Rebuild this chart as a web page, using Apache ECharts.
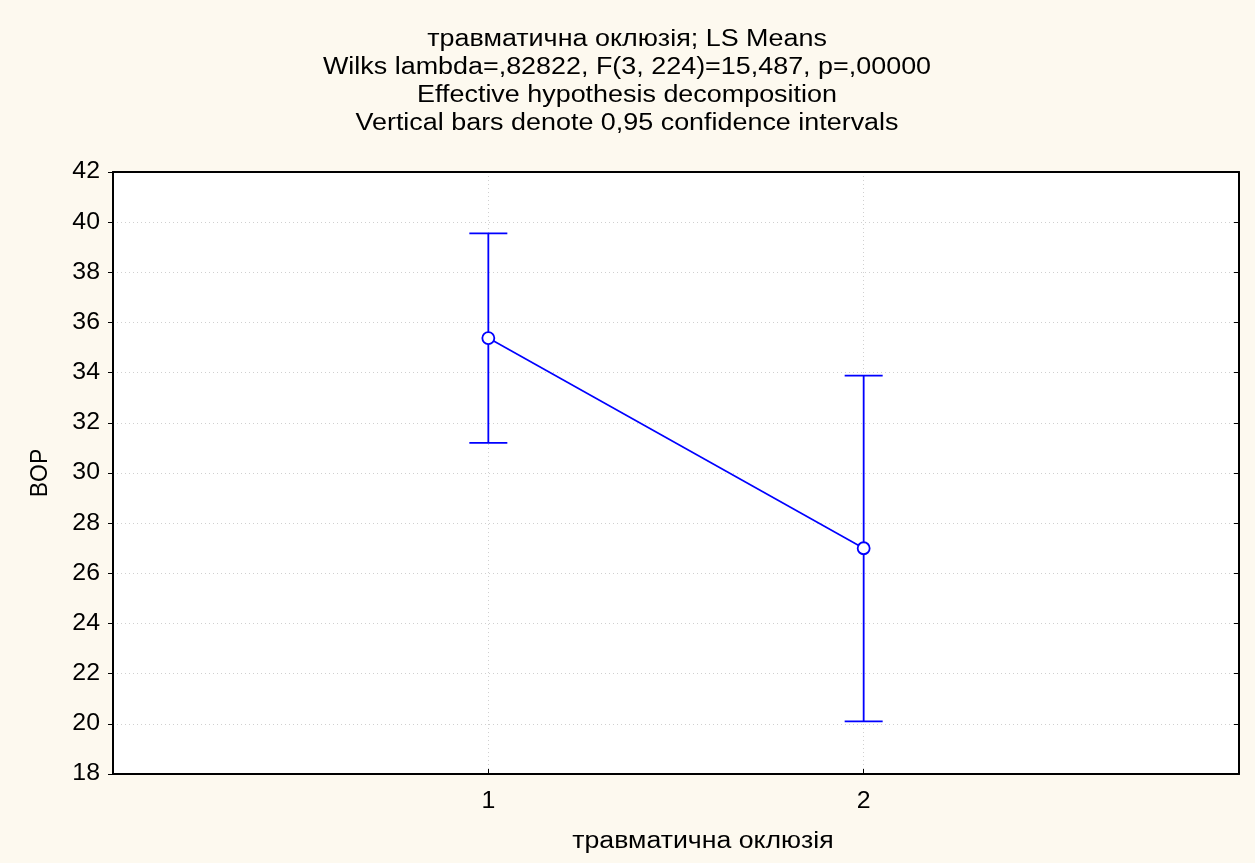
<!DOCTYPE html>
<html><head><meta charset="utf-8">
<script src="https://cdn.jsdelivr.net/npm/echarts@6/dist/echarts.min.js"></script>
<style>html,body{margin:0;padding:0;background:#fdf9ef;}#c{width:1255px;height:863px;}</style>
</head><body><div id="c"></div>
<script>
const categories = [1, 2];
const means = [35.38, 27.0];
const upper = [39.55, 33.88];
const lower = [31.2, 20.1];
const yTicks = [18, 20, 22, 24, 26, 28, 30, 32, 34, 36, 38, 40, 42];
const titleLines = ['травматична оклюзія; LS Means', 'Wilks lambda=,82822, F(3, 224)=15,487, p=,00000', 'Effective hypothesis decomposition', 'Vertical bars denote 0,95 confidence intervals'];
const xName = 'травматична оклюзія';
const yName = 'BOP';

const FONT = '"Liberation Sans", Arial, sans-serif';
const BLUE = '#0000ff';
const chart = echarts.init(document.getElementById('c'));
const errData = categories.map((c, i) => [c, lower[i], upper[i]]);
chart.setOption({
  backgroundColor: '#fdf9ef',
  animation: false,
  grid: { left: 113, right: 16, top: 172, bottom: 89, show: true, backgroundColor: '#fff', borderWidth: 0 },
  xAxis: [{
    type: 'value', min: 0, max: 3, interval: 1,
    axisLine: { lineStyle: { color: '#000', width: 2 } },
    axisTick: { show: true, inside: true, length: 5, customValues: categories, lineStyle: { color: '#000' } },
    axisLabel: { show: false },
    splitLine: { show: true, lineStyle: { color: '#d0d0d0', type: [1, 3] } }
  }, {
    type: 'value', min: 0, max: 3, interval: 1, position: 'top',
    axisLine: { show: true, onZero: false, lineStyle: { color: '#000', width: 2 } },
    axisTick: { show: false }, axisLabel: { show: false }, splitLine: { show: false }
  }],
  yAxis: [{
    type: 'value', min: 18, max: 42, interval: 2,
    axisLine: { show: true, lineStyle: { color: '#000', width: 2 } },
    axisTick: { show: true, length: 5, lineStyle: { color: '#000' } },
    axisLabel: { show: false },
    splitLine: { show: true, lineStyle: { color: '#d0d0d0', type: [1, 3] } }
  }, {
    type: 'value', min: 18, max: 42, interval: 2, position: 'right',
    axisLine: { show: true, onZero: false, lineStyle: { color: '#000', width: 2 } },
    axisTick: { show: true, inside: true, length: 5, lineStyle: { color: '#000' } },
    axisLabel: { show: false }, splitLine: { show: false }
  }],
  series: [{
    type: 'custom',
    data: errData,
    renderItem: function (params, api) {
      const x = api.value(0);
      const lo = api.coord([x, api.value(1)]);
      const hi = api.coord([x, api.value(2)]);
      const hw = 19;
      const st = { stroke: BLUE, lineWidth: 1.8 };
      return { type: 'group', children: [
        { type: 'line', shape: { x1: lo[0], y1: lo[1], x2: hi[0], y2: hi[1] }, style: st },
        { type: 'line', shape: { x1: lo[0] - hw, y1: lo[1], x2: lo[0] + hw, y2: lo[1] }, style: st },
        { type: 'line', shape: { x1: hi[0] - hw, y1: hi[1], x2: hi[0] + hw, y2: hi[1] }, style: st }
      ] };
    },
    z: 2
  }, {
    type: 'line',
    data: categories.map((c, i) => [c, means[i]]),
    symbol: 'circle', symbolSize: 12,
    lineStyle: { color: BLUE, width: 1.6 },
    itemStyle: { color: '#fff', borderColor: BLUE, borderWidth: 1.8 },
    z: 3
  }]
});

function txt(str, x, y, align, fs, sx) {
  return {
    type: 'text', x: x, y: y, scaleX: sx, silent: true,
    style: { text: str, x: 0, y: 0, textAlign: align, textVerticalAlign: 'middle',
      font: fs + 'px ' + FONT, fill: '#000' }
  };
}
const g = [];
titleLines.forEach((t, i) => g.push(txt(t, 627, 40 + 28 * i, 'center', 23, 1.17)));
yTicks.forEach(v => {
  const p = chart.convertToPixel({ yAxisIndex: 0 }, v);
  g.push(txt(String(v), 100, p, 'right', 23, 1.08));
});
categories.forEach(c => {
  const p = chart.convertToPixel({ xAxisIndex: 0 }, c);
  g.push(txt(String(c), p, 802, 'center', 23, 1.08));
});
const yMid = (chart.convertToPixel({ yAxisIndex: 0 }, 18) + chart.convertToPixel({ yAxisIndex: 0 }, 42)) / 2;
g.push(txt(xName, 703, 842, 'center', 23, 1.16));
g.push({
  type: 'text', x: 41, y: yMid, rotation: Math.PI / 2, silent: true,
  style: { text: yName, x: 0, y: 0, textAlign: 'center', textVerticalAlign: 'middle',
    font: '23px ' + FONT, fill: '#000' }
});
chart.setOption({ graphic: g });
</script></body></html>
